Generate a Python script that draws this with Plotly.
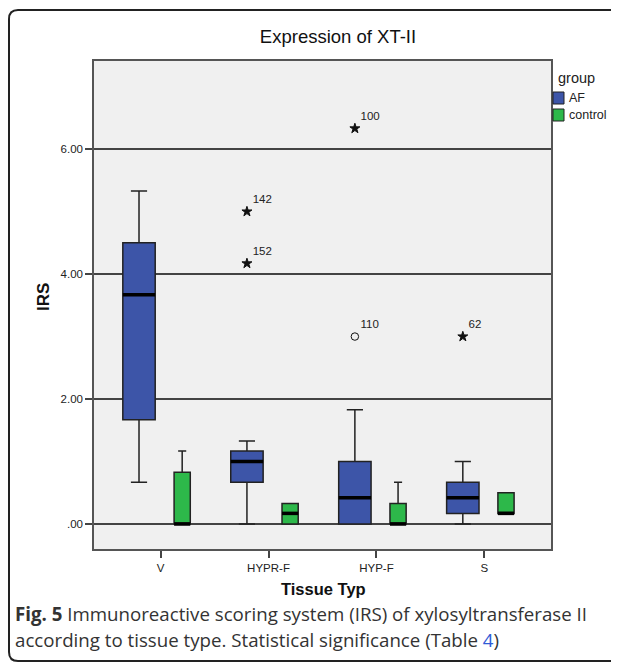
import plotly.graph_objects as go

# ---------------- data ----------------
categories = ["V", "HYPR-F", "HYP-F", "S"]
groups = ["AF", "control"]

af_lower = [0.67, 0.0, 0.0, 0.0]
af_q1 = [1.67, 0.67, 0.0, 0.17]
af_median = [3.67, 1.0, 0.42, 0.42]
af_q3 = [4.5, 1.17, 1.0, 0.67]
af_upper = [5.33, 1.33, 1.83, 1.0]

ctrl_lower = [0.0, 0.0, 0.0, 0.17]
ctrl_q1 = [0.0, 0.0, 0.0, 0.17]
ctrl_median = [0.0, 0.17, 0.0, 0.17]
ctrl_q3 = [0.83, 0.33, 0.33, 0.5]
ctrl_upper = [1.17, 0.33, 0.67, 0.5]

outlier_cat = ["HYPR-F", "HYPR-F", "HYP-F", "HYP-F", "S"]
outlier_val = [5.0, 4.17, 6.33, 3.0, 3.0]
outlier_id = ["142", "152", "100", "110", "62"]
outlier_kind = ["extreme", "extreme", "extreme", "mild", "extreme"]

y_tickvals = [0, 2, 4, 6]
y_ticktext = [".00", "2.00", "4.00", "6.00"]

# ---------------- style ----------------
AF_COLOR = "#3D55A8"
CTRL_COLOR = "#2DB84A"
EDGE = "#222222"
FONT = "Liberation Sans, Arial, sans-serif"
CAP_FONT = "Open Sans, sans-serif"
AF_OFFSET, CTRL_OFFSET = -0.2, 0.2
AF_WIDTH, CTRL_WIDTH = 0.30, 0.15

# page is 619x670; the html body adds an 8px margin around the figure
OFF = 8
PAGE_W, PAGE_H = 619, 670
W, H = PAGE_W - OFF, PAGE_H - OFF
PL, PR, PT, PB = 94, 551, 61, 549          # plot area in page pixels
ML, MR, MT, MB = PL - OFF, PAGE_W - PR, PT - OFF, PAGE_H - PB
PW, PH = PR - PL, PB - PT


def px(x):
    return (x - PL) / PW


def py(y):
    return (PB - y) / PH


af_x = [i + AF_OFFSET for i in range(len(categories))]
ctrl_x = [i + CTRL_OFFSET for i in range(len(categories))]

fig = go.Figure()

fig.add_trace(go.Box(
    x=af_x, q1=af_q1, median=af_median, q3=af_q3,
    lowerfence=af_lower, upperfence=af_upper,
    width=AF_WIDTH, whiskerwidth=0.5, fillcolor=AF_COLOR,
    line=dict(color=EDGE, width=1.5), boxpoints=False,
    name="AF", showlegend=False, hoverinfo="skip"))

fig.add_trace(go.Box(
    x=ctrl_x, q1=ctrl_q1, median=ctrl_median, q3=ctrl_q3,
    lowerfence=ctrl_lower, upperfence=ctrl_upper,
    width=CTRL_WIDTH, whiskerwidth=0.5, fillcolor=CTRL_COLOR,
    line=dict(color=EDGE, width=1.5), boxpoints=False,
    name="control", showlegend=False, hoverinfo="skip"))


def median_segments(xs, meds, w):
    sx, sy = [], []
    for x, m in zip(xs, meds):
        sx += [x - w / 2, x + w / 2, None]
        sy += [m, m, None]
    return sx, sy


for xs, meds, w in [(af_x, af_median, AF_WIDTH), (ctrl_x, ctrl_median, CTRL_WIDTH)]:
    sx, sy = median_segments(xs, meds, w)
    fig.add_trace(go.Scatter(x=sx, y=sy, mode="lines",
                             line=dict(color="black", width=3.5),
                             showlegend=False, hoverinfo="skip"))

# outliers
ox = [categories.index(c) + AF_OFFSET for c in outlier_cat]
symbols = ["star" if k == "extreme" else "circle-open" for k in outlier_kind]
fig.add_trace(go.Scatter(
    x=ox, y=outlier_val, mode="markers+text", text=outlier_id,
    textposition="top right",
    textfont=dict(family=FONT, size=11.5, color="#222"),
    marker=dict(symbol=symbols, size=7.5, color="#111",
                line=dict(color="#111", width=1)),
    showlegend=False, hoverinfo="skip"))

# rounded outer frame (page pixels -> paper)
L, T, R, B, rr = 9, 10, 660, 661, 9
path = (f"M {px(L)},{py(T + rr)} "
        f"Q {px(L)},{py(T)} {px(L + rr)},{py(T)} "
        f"L {px(R)},{py(T)} "
        f"M {px(L)},{py(T + rr)} "
        f"L {px(L)},{py(B - rr)} "
        f"Q {px(L)},{py(B)} {px(L + rr)},{py(B)} "
        f"L {px(R)},{py(B)}")

shapes = [dict(type="path", xref="paper", yref="paper", path=path,
               line=dict(color="#222", width=2), layer="above")]

annotations = [
    dict(text="<b>Tissue Typ</b>", xref="paper", yref="paper",
         x=px(323), y=py(589), xanchor="center", yanchor="middle",
         showarrow=False, font=dict(family=FONT, size=16.5, color="#111")),
    dict(text="<b>IRS</b>", xref="paper", yref="paper",
         x=px(43), y=py(297), xanchor="center", yanchor="middle",
         textangle=-90, showarrow=False,
         font=dict(family=FONT, size=17, color="#111")),
    dict(text="<b>Fig. 5</b> Immunoreactive scoring system (IRS) of xylosyltransferase II",
         xref="paper", yref="paper", x=px(13), y=py(613),
         xanchor="left", yanchor="middle", showarrow=False,
         font=dict(family=CAP_FONT, size=18.7, color="#333")),
    dict(text="according to tissue type. Statistical significance (Table <span style='color:#2F5BD6'>4</span>)",
         xref="paper", yref="paper", x=px(13), y=py(639),
         xanchor="left", yanchor="middle", showarrow=False,
         font=dict(family=CAP_FONT, size=18.7, color="#333")),
    # legend
    dict(text="group", xref="paper", yref="paper", x=px(556), y=py(78),
         xanchor="left", yanchor="middle", showarrow=False,
         font=dict(family=FONT, size=14.5, color="#222")),
]

legend_rows_y = [98, 115]
for g, c, yy in zip(groups, [AF_COLOR, CTRL_COLOR], legend_rows_y):
    shapes.append(dict(type="rect", xref="paper", yref="paper",
                       x0=px(553), x1=px(564), y0=py(yy - 6), y1=py(yy + 6),
                       fillcolor=c, line=dict(color="#222", width=1)))
    annotations.append(dict(text=g, xref="paper", yref="paper",
                            x=px(567), y=py(yy), xanchor="left",
                            yanchor="middle", showarrow=False,
                            font=dict(family=FONT, size=12.5, color="#222")))

fig.update_layout(
    width=W, height=H,
    margin=dict(l=ML, r=MR, t=MT, b=MB, autoexpand=False),
    paper_bgcolor="white", plot_bgcolor="#F0F0F0",
    font=dict(family=FONT, size=11, color="#222"),
    title=dict(text="Expression of XT-II", x=(338 - OFF) / W, xanchor="center",
               y=1 - (37 - OFF) / H, yanchor="middle",
               font=dict(family=FONT, size=18.5, color="#111")),
    boxmode="overlay",
    showlegend=False,
    xaxis=dict(range=[-0.617, 3.617], tickvals=list(range(len(categories))),
               ticktext=categories, showgrid=False, zeroline=False,
               ticks="outside", ticklen=7, tickwidth=2, tickcolor="#444",
               showline=True, linecolor="#555", linewidth=1.5, mirror=True,
               tickfont=dict(size=11.5, color="#222")),
    yaxis=dict(range=[-0.40, 7.41], tickvals=y_tickvals, ticktext=y_ticktext,
               showgrid=True, gridcolor="#444", gridwidth=1.5, zeroline=False,
               ticks="outside", ticklen=7, tickwidth=1.5, tickcolor="#444",
               showline=True, linecolor="#555", linewidth=1.5, mirror=True,
               tickfont=dict(size=11.5, color="#222")),
    shapes=shapes,
    annotations=annotations,
)

fig.write_html("out.html")
